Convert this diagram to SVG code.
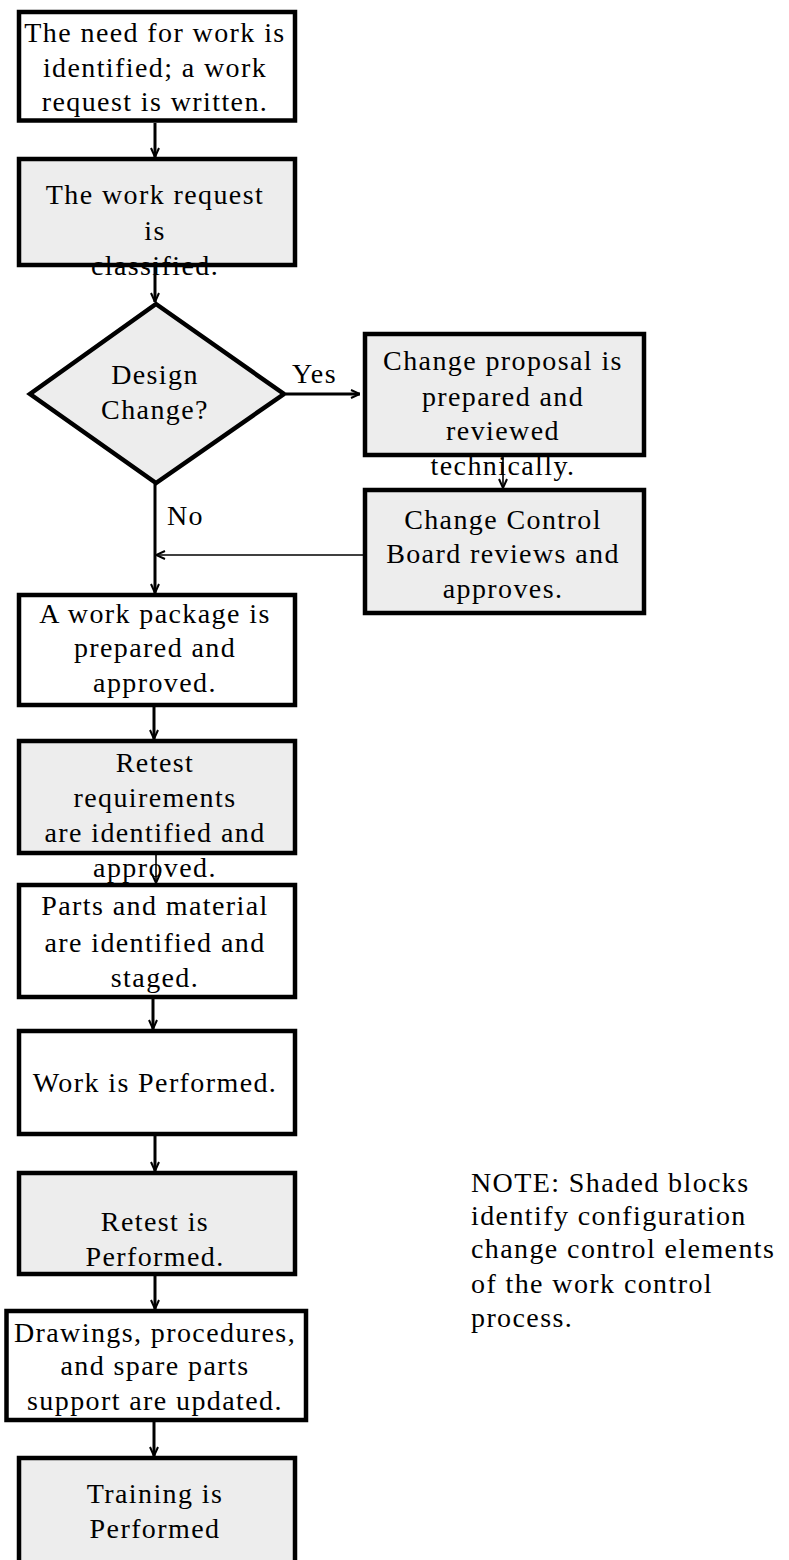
<svg xmlns="http://www.w3.org/2000/svg" width="789" height="1560" viewBox="0 0 789 1560">
  <style>
    .box { stroke: #000; stroke-width: 4.5; }
    .plain { fill: #fff; }
    .shaded { fill: #ededed; }
    .t { font-family: "Liberation Serif", "Times New Roman", serif; font-size: 28px; letter-spacing: 1.4px; fill: #000; }
    .c { text-anchor: middle; }
    .wire { fill: none; stroke: #000; stroke-width: 3; }
    .thin { fill: none; stroke: #000; stroke-width: 1.6; }
  </style>
  <defs>
    <marker id="arrow" viewBox="0 0 10 10" refX="10" refY="5" markerWidth="10" markerHeight="10" markerUnits="userSpaceOnUse" orient="auto">
      <path d="M1,1 L10,5 L1,9" fill="none" stroke="#000" stroke-width="2"/>
    </marker>
  </defs>
  <rect width="789" height="1560" fill="#fff"/>

  <g id="n1">
    <rect class="box plain" x="19" y="12" width="276" height="108.5"/>
    <text class="t c" x="155" y="42">The need for work is</text>
    <text class="t c" x="155" y="77">identified; a work</text>
    <text class="t c" x="155" y="111">request is written.</text>
  </g>

  <g id="n2">
    <rect class="box shaded" x="19" y="159" width="276" height="106"/>
    <text class="t c" x="155" y="204">The work request</text>
    <text class="t c" x="155" y="240">is</text>
    <text class="t c" x="155" y="275">classified.</text>
  </g>

  <g id="n3">
    <polygon class="box shaded" points="156,304 284,394 156,483 30,394"/>
    <text class="t c" x="155" y="384">Design</text>
    <text class="t c" x="155" y="419">Change?</text>
  </g>

  <g id="n4">
    <rect class="box shaded" x="365" y="334" width="279" height="121"/>
    <text class="t c" x="503" y="370">Change proposal is</text>
    <text class="t c" x="503" y="406">prepared and</text>
    <text class="t c" x="503" y="440">reviewed</text>
    <text class="t c" x="503" y="475">technically.</text>
  </g>

  <g id="n5">
    <rect class="box shaded" x="365" y="490" width="279" height="123"/>
    <text class="t c" x="503" y="529">Change Control</text>
    <text class="t c" x="503" y="563">Board reviews and</text>
    <text class="t c" x="503" y="598">approves.</text>
  </g>

  <g id="n6">
    <rect class="box plain" x="19" y="595" width="276" height="110"/>
    <text class="t c" x="155" y="623">A work package is</text>
    <text class="t c" x="155" y="657">prepared and</text>
    <text class="t c" x="155" y="692">approved.</text>
  </g>

  <g id="n7">
    <rect class="box shaded" x="19" y="741" width="276" height="112"/>
    <text class="t c" x="155" y="772">Retest</text>
    <text class="t c" x="155" y="807">requirements</text>
    <text class="t c" x="155" y="842">are identified and</text>
    <text class="t c" x="155" y="877">approved.</text>
  </g>

  <g id="n8">
    <rect class="box plain" x="19" y="885" width="276" height="112"/>
    <text class="t c" x="155" y="915">Parts and material</text>
    <text class="t c" x="155" y="952">are identified and</text>
    <text class="t c" x="155" y="987">staged.</text>
  </g>

  <g id="n9">
    <rect class="box plain" x="19" y="1031" width="276" height="103"/>
    <text class="t c" x="155" y="1092">Work is Performed.</text>
  </g>

  <g id="n10">
    <rect class="box shaded" x="19" y="1173" width="276" height="101"/>
    <text class="t c" x="155" y="1231">Retest is</text>
    <text class="t c" x="155" y="1266">Performed.</text>
  </g>

  <g id="n11">
    <rect class="box plain" x="6.5" y="1311" width="299.5" height="109"/>
    <text class="t c" x="155" y="1342">Drawings, procedures,</text>
    <text class="t c" x="155" y="1375">and spare parts</text>
    <text class="t c" x="155" y="1410">support are updated.</text>
  </g>

  <g id="n12">
    <rect class="box shaded" x="19" y="1458" width="276" height="106"/>
    <text class="t c" x="155" y="1503">Training is</text>
    <text class="t c" x="155" y="1538">Performed</text>
  </g>

  <g id="note">
    <text class="t" x="471" y="1192">NOTE: Shaded blocks</text>
    <text class="t" x="471" y="1225">identify configuration</text>
    <text class="t" x="471" y="1258">change control elements</text>
    <text class="t" x="471" y="1293">of the work control</text>
    <text class="t" x="471" y="1327">process.</text>
  </g>

  <g id="connectors">
    <line class="wire" x1="155" y1="123" x2="155" y2="157" marker-end="url(#arrow)"/>
    <line class="wire" x1="155" y1="267" x2="155" y2="302" marker-end="url(#arrow)"/>
    <line class="wire" x1="286" y1="394" x2="360" y2="394" marker-end="url(#arrow)"/>
    <text class="t" x="292" y="383">Yes</text>
    <line class="thin" x1="503" y1="457" x2="503" y2="488" marker-end="url(#arrow)"/>
    <line class="wire" x1="155" y1="484" x2="155" y2="593" marker-end="url(#arrow)"/>
    <text class="t" x="167" y="525">No</text>
    <line class="thin" x1="363" y1="555" x2="156" y2="555" marker-end="url(#arrow)"/>
    <line class="wire" x1="154" y1="707" x2="154" y2="739" marker-end="url(#arrow)"/>
    <line class="thin" x1="156" y1="855" x2="156" y2="883" marker-end="url(#arrow)"/>
    <line class="wire" x1="153" y1="999" x2="153" y2="1029" marker-end="url(#arrow)"/>
    <line class="wire" x1="155" y1="1136" x2="155" y2="1171" marker-end="url(#arrow)"/>
    <line class="wire" x1="155" y1="1276" x2="155" y2="1309" marker-end="url(#arrow)"/>
    <line class="wire" x1="154" y1="1422" x2="154" y2="1456" marker-end="url(#arrow)"/>
  </g>
</svg>
